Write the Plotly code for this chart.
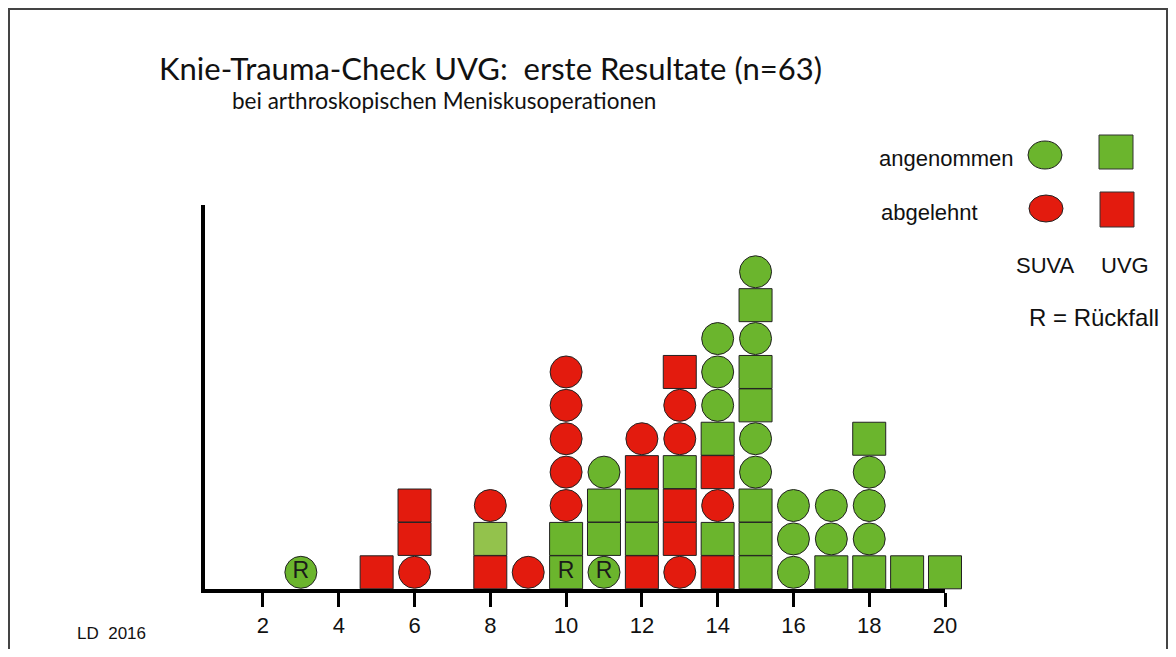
import plotly.graph_objects as go

# ---- data ----
scores = [3, 5, 6, 8, 9, 10, 11, 12, 13, 14, 15, 16, 17, 18, 19, 20]
# stacks, bottom -> top.  SA = SUVA angenommen, SR = SUVA abgelehnt,
# UA = UVG angenommen, UR = UVG abgelehnt, UL = UVG angenommen (hellgrün)
stacks = [
    ["SA"],
    ["UR"],
    ["SR", "UR", "UR"],
    ["UR", "UL", "SR"],
    ["SR"],
    ["UA", "UA", "SR", "SR", "SR", "SR", "SR"],
    ["SA", "UA", "UA", "SA"],
    ["UR", "UA", "UA", "UR", "SR"],
    ["SR", "UR", "UR", "UA", "SR", "SR", "UR"],
    ["UR", "UA", "SR", "UR", "UA", "SA", "SA", "SA"],
    ["UA", "UA", "UA", "SA", "SA", "UA", "UA", "SA", "UA", "SA"],
    ["SA", "SA", "SA"],
    ["UA", "SA", "SA"],
    ["UA", "SA", "SA", "SA", "UA"],
    ["UA"],
    ["UA"],
]
# Rückfall markers: (score, stack position from bottom)
rueckfall = [(3, 0), (10, 0), (11, 0)]
tick_values = [2, 4, 6, 8, 10, 12, 14, 16, 18, 20]

GREEN = "#6BB52D"
LIGHT_GREEN = "#93C24C"
RED = "#E31B0E"

styles = {
    "SA": dict(symbol="circle", color=GREEN, size=32, name="SUVA angenommen"),
    "SR": dict(symbol="circle", color=RED, size=32, name="SUVA abgelehnt"),
    "UA": dict(symbol="square", color=GREEN, size=33, name="UVG angenommen"),
    "UL": dict(symbol="square", color=LIGHT_GREEN, size=33, name="UVG angenommen"),
    "UR": dict(symbol="square", color=RED, size=33, name="UVG abgelehnt"),
}

fig = go.Figure()
for code, st in styles.items():
    xs, ys, txt = [], [], []
    for s, col in zip(scores, stacks):
        for i, c in enumerate(col):
            if c == code:
                xs.append(s)
                ys.append(i + 0.5)
                txt.append("R" if (s, i) in rueckfall else "")
    if not xs:
        continue
    fig.add_trace(go.Scatter(
        x=xs, y=ys, mode="markers+text", text=txt,
        textposition="middle center",
        textfont=dict(family="Liberation Sans, Arial", size=23, color="#1a1a1a"),
        marker=dict(symbol=st["symbol"], size=st["size"], color=st["color"],
                    line=dict(color="#222222", width=1)),
        name=st["name"], showlegend=False, cliponaxis=False, hoverinfo="x+name",
    ))

# ---- geometry helpers (page pixel -> paper); page has an 8px body margin ----
OFF = 8
FIG_W, FIG_H = 1176 - 2 * OFF, 657 - 2 * OFF
L, R_, T, B = 205, 945, 205, 589     # plot area in page pixels
W, H = R_ - L, B - T


def px(x):
    return (x - L) / W


def py(y):
    return (B - y) / H


shapes = []
# frame
frame = dict(type="path", xref="paper", yref="paper",
             path=f"M {px(9)} {py(660)} L {px(9)} {py(9)} L {px(1167)} {py(9)} L {px(1167)} {py(660)}",
             line=dict(color="#444444", width=2))
shapes.append(frame)
# legend symbols
shapes.append(dict(type="circle", xref="paper", yref="paper",
                   x0=px(1028), x1=px(1062), y0=py(141), y1=py(169),
                   fillcolor=GREEN, line=dict(color="#222", width=1)))
shapes.append(dict(type="circle", xref="paper", yref="paper",
                   x0=px(1029), x1=px(1063), y0=py(195), y1=py(222),
                   fillcolor=RED, line=dict(color="#222", width=1)))
shapes.append(dict(type="rect", xref="paper", yref="paper",
                   x0=px(1099), x1=px(1133), y0=py(135), y1=py(169),
                   fillcolor=GREEN, line=dict(color="#333", width=1)))
shapes.append(dict(type="rect", xref="paper", yref="paper",
                   x0=px(1100), x1=px(1134), y0=py(192), y1=py(227),
                   fillcolor=RED, line=dict(color="#333", width=1)))

ARIAL = "Liberation Sans, Arial, sans-serif"
annotations = [
    dict(text="Knie-Trauma-Check UVG:  erste Resultate (n=63)", x=px(157), y=py(68),
         xanchor="left", yanchor="middle", font=dict(family="Lato", size=31, color="#111")),
    dict(text="bei arthroskopischen Meniskusoperationen", x=px(230), y=py(100),
         xanchor="left", yanchor="middle", font=dict(family="Lato", size=22.5, color="#111")),
    dict(text="angenommen", x=px(877), y=py(159), xanchor="left", yanchor="middle",
         font=dict(family=ARIAL, size=22, color="#111")),
    dict(text="abgelehnt", x=px(879), y=py(212), xanchor="left", yanchor="middle",
         font=dict(family=ARIAL, size=22, color="#111")),
    dict(text="SUVA", x=px(1045), y=py(265), xanchor="center", yanchor="middle",
         font=dict(family=ARIAL, size=22, color="#111")),
    dict(text="UVG", x=px(1125), y=py(265), xanchor="center", yanchor="middle",
         font=dict(family=ARIAL, size=22, color="#111")),
    dict(text="R = Rückfall", x=px(1027), y=py(317), xanchor="left", yanchor="middle",
         font=dict(family=ARIAL, size=24, color="#111")),
    dict(text="LD  2016", x=px(75), y=py(633), xanchor="left", yanchor="middle",
         font=dict(family=ARIAL, size=17, color="#111")),
]
for a in annotations:
    a.update(xref="paper", yref="paper", showarrow=False)

fig.update_layout(
    width=FIG_W, height=FIG_H, autosize=False,
    margin=dict(l=L - OFF, r=FIG_W - (R_ - OFF), t=T - OFF, b=FIG_H - (B - OFF), pad=0),
    paper_bgcolor="white", plot_bgcolor="white",
    shapes=shapes, annotations=annotations,
    xaxis=dict(range=[0.47, 20], tickvals=tick_values, ticktext=[str(v) for v in tick_values],
               showline=True, linewidth=4, linecolor="black", ticks="outside",
               ticklen=14, tickwidth=3, tickcolor="black", showgrid=False, zeroline=False,
               tickfont=dict(family=ARIAL, size=22, color="#111")),
    yaxis=dict(range=[0, 11.5], showline=True, linewidth=4, linecolor="black",
               showticklabels=False, ticks="", showgrid=False, zeroline=False),
)

fig.write_html("out.html")
